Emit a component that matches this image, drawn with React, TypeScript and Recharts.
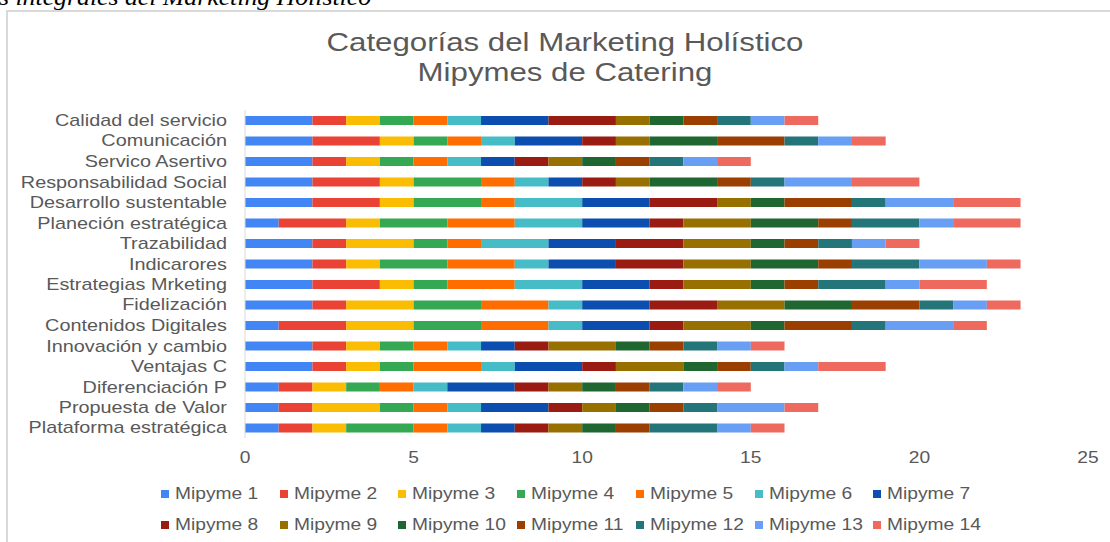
import React from "react";
import { BarChart, Bar, XAxis, YAxis } from "recharts";

// categories top to bottom, as drawn
const categories = [
  "Calidad del servicio",
  "Comunicación",
  "Servico Asertivo",
  "Responsabilidad Social",
  "Desarrollo sustentable",
  "Planeción estratégica",
  "Trazabilidad",
  "Indicarores",
  "Estrategias Mrketing",
  "Fidelización",
  "Contenidos Digitales",
  "Innovación y cambio",
  "Ventajas C",
  "Diferenciación P",
  "Propuesta de Valor",
  "Plataforma estratégica",
];

const mipyme1 = [2, 2, 2, 2, 2, 1, 2, 2, 2, 2, 1, 2, 2, 1, 1, 1];
const mipyme2 = [1, 2, 1, 2, 2, 2, 1, 1, 2, 1, 2, 1, 1, 1, 1, 1];
const mipyme3 = [1, 1, 1, 1, 1, 1, 2, 1, 1, 2, 2, 1, 1, 1, 2, 1];
const mipyme4 = [1, 1, 1, 2, 2, 2, 1, 2, 1, 2, 2, 1, 1, 1, 1, 2];
const mipyme5 = [1, 1, 1, 1, 1, 2, 1, 2, 2, 2, 2, 1, 2, 1, 1, 1];
const mipyme6 = [1, 1, 1, 1, 2, 2, 2, 1, 2, 1, 1, 1, 1, 1, 1, 1];
const mipyme7 = [2, 2, 1, 1, 2, 2, 2, 2, 2, 2, 2, 1, 2, 2, 2, 1];
const mipyme8 = [2, 1, 1, 1, 2, 1, 2, 2, 1, 2, 1, 1, 1, 1, 1, 1];
const mipyme9 = [1, 1, 1, 1, 1, 2, 2, 2, 2, 2, 2, 2, 2, 1, 1, 1];
const mipyme10 = [1, 2, 1, 2, 1, 2, 1, 2, 1, 2, 1, 1, 1, 1, 1, 1];
const mipyme11 = [1, 2, 1, 1, 2, 1, 1, 1, 1, 2, 2, 1, 1, 1, 1, 1];
const mipyme12 = [1, 1, 1, 1, 1, 2, 1, 2, 2, 1, 1, 1, 1, 1, 1, 2];
const mipyme13 = [1, 1, 1, 2, 2, 1, 1, 2, 1, 1, 2, 1, 1, 1, 2, 1];
const mipyme14 = [1, 1, 1, 2, 2, 2, 1, 1, 2, 1, 1, 1, 2, 1, 1, 1];

const seriesValues = [
  mipyme1, mipyme2, mipyme3, mipyme4, mipyme5, mipyme6, mipyme7,
  mipyme8, mipyme9, mipyme10, mipyme11, mipyme12, mipyme13, mipyme14,
];
const seriesNames = seriesValues.map((_, i) => `Mipyme ${i + 1}`);

const colors = [
  "#4285F4", "#EA4335", "#FBBC04", "#34A853", "#FF6D01", "#46BDC6", "#0B4EB0",
  "#9A1B12", "#987000", "#1F6630", "#9A3F00", "#247579", "#689EF4", "#EE6A5F",
];

const xTicks = [0, 5, 10, 15, 20, 25];

const data = categories.map((category, row) => {
  const entry: Record<string, string | number> = { category };
  seriesNames.forEach((name, s) => {
    entry[name] = seriesValues[s][row];
  });
  return entry;
});

const FONT = "'Liberation Sans', Arial, sans-serif";
const STRETCH = 1.2;
const GREY = "#595959";

const CategoryTick = (props: any) => {
  const { x, y, payload } = props;
  return (
    <text
      x={x}
      y={y}
      dy="0.36em"
      textAnchor="end"
      fill={GREY}
      fontSize={16}
      fontFamily={FONT}
      transform={`translate(${x},${y}) scale(1.24,1) translate(${-x},${-y})`}
    >
      {payload.value}
    </text>
  );
};

const ValueTick = (props: any) => {
  const { x, y, payload } = props;
  return (
    <text
      x={x}
      y={y}
      dy="0.71em"
      textAnchor="middle"
      fill={GREY}
      fontSize={16}
      fontFamily={FONT}
      transform={`translate(${x},${y}) scale(${STRETCH},1) translate(${-x},${-y})`}
    >
      {payload.value}
    </text>
  );
};

// legend laid out as a 7-column grid, like the spreadsheet does
function LegendRows() {
  const perRow = 7;
  const colWidth = 118.7;
  return (
    <>
      {seriesNames.map((name, idx) => {
        const col = idx % perRow;
        const r = Math.floor(idx / perRow);
        return (
          <div
            key={name}
            style={{
              position: "absolute",
              left: 161 + col * colWidth,
              top: 485 + r * 31,
              height: 18,
              display: "flex",
              alignItems: "center",
              whiteSpace: "nowrap",
            }}
          >
            <span style={{ width: 8, height: 8, background: colors[idx], display: "inline-block" }} />
            <span
              style={{
                marginLeft: 6,
                fontFamily: FONT,
                fontSize: 16,
                color: GREY,
                display: "inline-block",
                transform: `scaleX(${STRETCH})`,
                transformOrigin: "left center",
              }}
            >
              {name}
            </span>
          </div>
        );
      })}
    </>
  );
}

export default function App() {
  return (
    <div
      style={{
        position: "fixed",
        left: 0,
        top: 0,
        width: 1110,
        height: 542,
        overflow: "hidden",
        background: "#fff",
      }}
    >
      <div
        style={{
          position: "absolute",
          left: -1,
          top: -15,
          fontFamily: "'Liberation Serif', 'Times New Roman', serif",
          fontStyle: "italic",
          fontSize: 23,
          color: "#000",
          whiteSpace: "nowrap",
          transform: "scaleX(1.12)",
          transformOrigin: "left top",
        }}
      >
        s integrales del Marketing Holístico
      </div>
      <div
        style={{
          position: "absolute",
          left: 6,
          top: 10,
          width: 1200,
          height: 600,
          borderLeft: "2px solid #d9d9d9",
          borderTop: "2px solid #d9d9d9",
        }}
      />
      {["Categorías del Marketing Holístico", "Mipymes de Catering"].map((line, i) => (
        <div
          key={line}
          style={{
            position: "absolute",
            left: 565 - 400,
            width: 800,
            top: 27 + i * 30,
            textAlign: "center",
            fontFamily: FONT,
            fontSize: 26,
            lineHeight: "30px",
            color: GREY,
            transform: `scaleX(${STRETCH})`,
            whiteSpace: "nowrap",
          }}
        >
          {line}
        </div>
      ))}
      <div style={{ position: "absolute", left: 0, top: 0 }}>
        <BarChart
          width={1110}
          height={542}
          data={data}
          layout="vertical"
          margin={{ top: 110, right: 22, left: 10, bottom: 74 }}
        >
          <XAxis
            type="number"
            domain={[0, 25]}
            ticks={xTicks}
            interval={0}
            axisLine={false}
            tickLine={false}
            tickMargin={8}
            height={30}
            tick={<ValueTick />}
          />
          <YAxis
            type="category"
            dataKey="category"
            width={235}
            interval={0}
            tickLine={false}
            tickMargin={12}
            axisLine={{ stroke: "#d9d9d9" }}
            tick={<CategoryTick />}
          />
          {seriesNames.map((name, i) => (
            <Bar
              key={name}
              dataKey={name}
              stackId="total"
              fill={colors[i]}
              barSize={9}
              isAnimationActive={false}
            />
          ))}
        </BarChart>
      </div>
      <LegendRows />
    </div>
  );
}
